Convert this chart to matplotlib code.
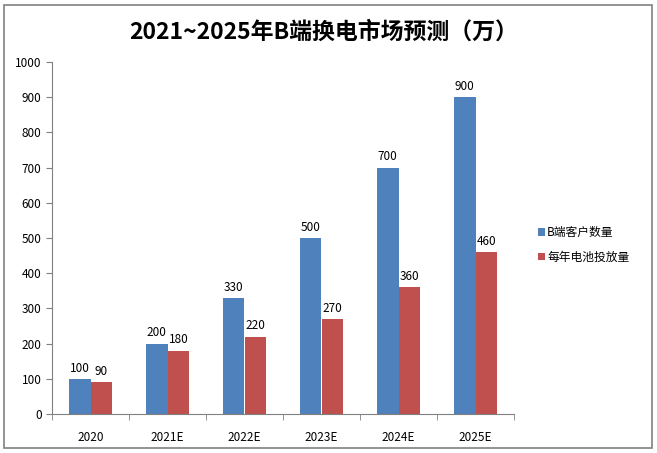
import matplotlib
matplotlib.use("Agg")
import matplotlib.pyplot as plt
import numpy as np
from matplotlib.patches import Rectangle

plt.rcParams['font.family'] = ['Noto Sans CJK SC', 'DejaVu Sans']

categories = ["2020", "2021E", "2022E", "2023E", "2024E", "2025E"]
customers = [100, 200, 330, 500, 700, 900]
batteries = [90, 180, 220, 270, 360, 460]
series_names = ["B端客户数量", "每年电池投放量"]
title = "2021~2025年B端换电市场预测（万）"

blue = "#4F81BD"
red = "#C0504D"

fig = plt.figure(figsize=(6.57, 4.53), dpi=100)
fig.patches.append(Rectangle((4/657, 5/453), 648/657, 443/453, transform=fig.transFigure,
                             fill=False, edgecolor="#808080", linewidth=1.2))
ax = fig.add_axes([52/657, 39/453, 462/657, 352/453])

x = np.arange(len(categories))
w = 0.285
b1 = ax.bar(x - w/2, customers, w, color=blue, label=series_names[0])
b2 = ax.bar(x + w/2, batteries, w, color=red, label=series_names[1])
for rect, v in zip(b1, customers):
    ax.text(rect.get_x() + rect.get_width()/2, v + 12, str(v), ha="center", va="bottom", fontsize=8.5)
for rect, v in zip(b2, batteries):
    ax.text(rect.get_x() + rect.get_width()/2, v + 12, str(v), ha="center", va="bottom", fontsize=8.5)

ax.set_xlim(-0.5, len(categories) - 0.5)
ax.set_ylim(0, 1000)
ax.set_yticks(range(0, 1001, 100))
ax.set_xticks(x)
ax.set_xticklabels(categories, fontsize=8.5)
ax.tick_params(axis="x", length=0, pad=12)
ax.set_xticks(np.arange(-0.5, len(categories)), minor=True)
ax.tick_params(axis="x", which="minor", length=4, color="#808080", direction="out")
ax.tick_params(axis="y", labelsize=8.5, length=4, color="#808080", direction="out")
for s in ["top", "right"]:
    ax.spines[s].set_visible(False)
for s in ["left", "bottom"]:
    ax.spines[s].set_color("#808080")

fig.text(324/657, 1 - 32/453, title, ha="center", va="center", fontsize=16.5, fontweight="bold")

leg = fig.legend(handles=[b1, b2], labels=series_names, loc="center left",
                 bbox_to_anchor=(527/657, 1 - 245/453), frameon=False, fontsize=8.5,
                 handlelength=0.6, handleheight=0.6, handletextpad=0.2, labelspacing=1.0)

fig.savefig("out.png", dpi=100)
